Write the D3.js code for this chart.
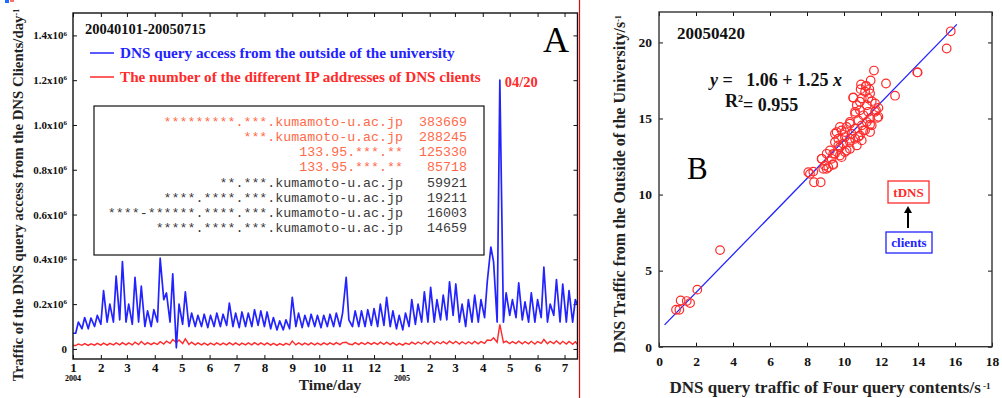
<!DOCTYPE html>
<html>
<head>
<meta charset="utf-8">
<script src="https://cdn.jsdelivr.net/npm/d3@7"></script>
<style>
    body { margin: 0; background: #fff; }
    svg { display: block; }
</style>
</head>
<body>
<svg id="chart" width="1002" height="398"></svg>
<script>
// ---- Panel A data: daily series read off the picture, sampled on Sundays (low) and Wednesdays (high), x1000
// first value = 2004-01-01, last value = 2005-07-15
const blueK = [
    70,
    70, 120, 90, 140, 90, 138, 100, 150,
    110, 260, 120, 200, 120, 325, 130, 390,
    120, 200, 110, 320, 120, 280, 100, 170, 100, 175,
    120, 405, 220, 250, 120, 335, 5, 200,
    110, 255, 100, 160, 100, 150, 100, 155, 95, 150,
    100, 160, 100, 155, 105, 205, 100, 160,
    95, 165, 100, 160, 100, 175, 105, 170,
    100, 165, 90, 140, 85, 125, 85, 130, 90, 230,
    100, 160, 95, 150, 100, 155, 100, 150,
    95, 150, 100, 155, 100, 160, 100, 160, 320, 130,
    100, 170, 100, 170, 100, 175, 105, 180,
    100, 200, 105, 230, 100, 170, 90, 150,
    85, 160, 100, 220, 110, 200, 120, 255, 120, 275,
    120, 220, 130, 240, 130, 300, 150, 290,
    120, 200, 100, 220, 120, 240, 120, 220,
    140, 300, 455, 390, 120, 1200, 120, 250,
    150, 220, 140, 295, 130, 210, 120, 250, 120, 220,
    140, 365, 120, 200, 150, 310, 120, 290,
    120, 260, 120, 220,
    200
];
const redK = [
    15,
    15, 22, 16, 24, 16, 23, 17, 25,
    17, 26, 17, 25, 18, 27, 18, 28,
    18, 27, 18, 30, 19, 33, 19, 28, 19, 27,
    20, 32, 22, 35, 25, 42, 28, 40,
    24, 45, 20, 30, 18, 27, 18, 26, 17, 26,
    18, 27, 18, 26, 18, 28, 18, 27,
    17, 26, 18, 27, 18, 28, 18, 27,
    18, 27, 17, 25, 16, 24, 17, 25, 18, 35,
    18, 27, 18, 26, 18, 27, 18, 26,
    18, 27, 19, 27, 19, 28, 19, 28, 30, 22,
    19, 28, 19, 28, 20, 29, 20, 28,
    20, 30, 20, 30, 19, 28, 17, 25,
    17, 26, 20, 30, 21, 31, 22, 33, 22, 34,
    22, 32, 23, 33, 23, 35, 24, 34,
    22, 32, 22, 32, 23, 34, 23, 33,
    25, 40, 38, 50, 30, 110, 28, 35,
    24, 33, 24, 35, 23, 33, 23, 34, 22, 33,
    25, 42, 23, 34, 24, 36, 22, 34,
    22, 33, 21, 32,
    22
];
const yTicksA = [0, 200000, 400000, 600000, 800000, 1000000, 1200000, 1400000];

const hostNames = [
    "*********.***.kumamoto-u.ac.jp",
    "***.kumamoto-u.ac.jp",
    "133.95.***.**",
    "133.95.***.**",
    "**.***.kumamoto-u.ac.jp",
    "****.****.***.kumamoto-u.ac.jp",
    "****-******.****.***.kumamoto-u.ac.jp",
    "*****.****.***.kumamoto-u.ac.jp",
];
const hostCounts = [383669, 288245, 125330, 85718, 59921, 19211, 16003, 14659];
const highlightedHosts = 4;

// ---- Panel B data: 2005-04-20 scatter
const scatterX = [
    3.3, 2.07, 1.17, 1.68, 0.92, 1.1, 1.5,
    15.77, 15.55, 13.96, 12.76, 12.27, 11.62, 11.44,
    13.98, 10.92, 11.19, 11.37, 10.9, 11.14, 10.5, 11.41, 10.96, 11.5, 11.68,
    10.69, 11.23, 11.86, 10.86, 11.31, 11.68, 10.6, 11.05, 11.8, 11.41, 10.77,
    11.23, 10.32, 10.96, 11.5, 10.6, 10.14, 11.14, 11.41, 9.87, 9.6, 10.41,
    10.86, 10.05, 9.69, 10.6, 10.96, 10.32, 9.51, 9.96, 10.69, 9.78, 10.32,
    9.24, 10.05, 9.51, 9.87, 9.06, 9.33, 8.79, 8.97, 9.42, 9.06, 8.34, 8.16,
    8.38, 8.74, 8.07, 9.41, 9.15, 8.88, 8.8,
    11.19, 10.5, 11.31, 10.86, 11.73, 10.6, 11.86, 10.32, 11.41, 9.78, 10.05,
    9.51, 11.05, 10.32, 10.77, 9.69, 10.14, 9.78, 9.42,
];
const scatterY = [
    6.35, 3.75, 3.04, 2.87, 2.43, 2.43, 3.0,
    20.73, 19.6, 18.03, 16.5, 17.3, 18.15, 17.5,
    18.03, 17.24, 17.15, 16.93, 16.93, 16.76, 16.36, 16.65, 16.32, 16.14, 15.99,
    15.87, 15.87, 15.7, 15.54, 15.44, 15.44, 15.32, 15.21, 15.04, 15.0, 14.88,
    14.77, 14.77, 14.55, 14.55, 14.33, 14.44, 14.22, 14.11, 14.22, 14.11, 14.0,
    13.89, 13.78, 13.67, 13.67, 13.56, 13.45, 13.45, 13.34, 13.23, 13.12, 13.0,
    12.9, 12.79, 12.68, 12.46, 12.68, 12.35, 12.35, 11.9, 11.95, 11.69, 11.51, 11.36,
    10.81, 10.81, 11.47, 12.0, 11.8, 11.69, 12.35,
    17.13, 16.38, 16.32, 16.1, 15.54, 15.44, 15.11, 14.66, 14.6, 14.44, 14.11,
    14.0, 14.22, 13.67, 13.78, 13.23, 12.9, 12.57, 12.68,
];
const fitIntercept = 1.06;
const fitSlope = 1.25;
const fitRange = [0.3, 16.1];
const xTicksB = [0, 2, 4, 6, 8, 10, 12, 14, 16, 18];
const yTicksB = [0, 5, 10, 15, 20];

// ---- Style
const SERIF = "'Liberation Serif', 'Times New Roman', Times, serif";
const MONO = "'Liberation Mono', 'Courier New', monospace";
const colors = {
    blue: "#2323ff",
    red: "#ff2a2a",
    host: "#ff6a4a",
    hostDim: "#3a3a3a",
    frame: "#111",
};

const svg = d3.select("#chart");
svg.append("rect").attr("width", 1002).attr("height", 398).attr("fill", "#fff");

// little marks in the top-left corner of the figure
svg.append("rect").attr("x", 5).attr("y", 0).attr("width", 4).attr("height", 3).attr("fill", "#1e6cff");
svg.append("rect").attr("x", 10).attr("y", 0).attr("width", 4).attr("height", 2).attr("fill", "#ff6a6a");

function styleAxis(g, size) {
    g.select(".domain").remove();
    g.selectAll(".tick line").attr("stroke", colors.frame).attr("stroke-width", 1);
    g.selectAll(".tick text")
        .attr("font-family", SERIF)
        .attr("font-weight", "bold")
        .attr("font-size", size)
        .attr("fill", "#111");
}

/* ============ Panel A ============ */
const A = { left: 73, right: 577.5, top: 13, bottom: 359 };
const xA = d3.scaleTime()
    .domain([new Date(2004, 0, 1), new Date(2005, 6, 15, 10)])
    .range([A.left, A.right]);
const yA = d3.scaleLinear().domain([-45000, 1500000]).range([A.bottom, A.top]);

const sampleDates = d3.timeDay
    .range(new Date(2004, 0, 1), new Date(2005, 6, 16))
    .filter((d, i, all) => i === 0 || i === all.length - 1 || d.getDay() === 0 || d.getDay() === 3);

const gA = svg.append("g");

gA.append("g")
    .attr("transform", `translate(0,${A.bottom})`)
    .call(d3.axisBottom(xA).ticks(d3.timeMonth.every(1)).tickSize(-4).tickPadding(4)
        .tickFormat((d) => d.getMonth() + 1))
    .call((g) => styleAxis(g, 13));
gA.append("g")
    .attr("transform", `translate(0,${A.top})`)
    .call(d3.axisTop(xA).ticks(d3.timeMonth.every(1)).tickSize(-4).tickFormat(() => ""))
    .call((g) => styleAxis(g, 12));

const leftA = gA.append("g")
    .attr("transform", `translate(${A.left},0)`)
    .call(d3.axisLeft(yA).tickValues(yTicksA).tickSize(-4).tickPadding(6).tickFormat(() => ""))
    .call((g) => styleAxis(g, 11));
leftA.selectAll(".tick text").each(function (d) {
    const t = d3.select(this);
    if (d === 0) {
        t.text("0");
        return;
    }
    t.append("tspan").text((d / 1e6).toFixed(1) + "x10");
    t.append("tspan").attr("dy", "-0.55em").attr("font-size", 7).text("6");
});
gA.append("g")
    .attr("transform", `translate(${A.right},0)`)
    .call(d3.axisRight(yA).tickValues(yTicksA).tickSize(-4).tickFormat(() => ""))
    .call((g) => styleAxis(g, 11));

// year labels under January ticks
[new Date(2004, 0, 1), new Date(2005, 0, 1)].forEach((d) => {
    gA.append("text")
        .attr("x", xA(d))
        .attr("y", 381)
        .attr("text-anchor", "middle")
        .attr("font-family", SERIF)
        .attr("font-weight", "bold")
        .attr("font-size", 8)
        .text(d.getFullYear());
});

// series
const lineA = (vals) =>
    d3.line().x((d, i) => xA(sampleDates[i])).y((d) => yA(d * 1000))(vals);

gA.append("path")
    .attr("d", lineA(redK))
    .attr("fill", "none")
    .attr("stroke", colors.red)
    .attr("stroke-width", 1.4);
gA.append("path")
    .attr("d", lineA(blueK))
    .attr("fill", "none")
    .attr("stroke", colors.blue)
    .attr("stroke-width", 1.7)
    .attr("stroke-linejoin", "round");

// frame
gA.append("rect")
    .attr("x", A.left).attr("y", A.top)
    .attr("width", A.right - A.left).attr("height", A.bottom - A.top)
    .attr("fill", "none").attr("stroke", colors.frame).attr("stroke-width", 1.4);
svg.append("line")
    .attr("x1", 579.5).attr("x2", 579.5).attr("y1", 0).attr("y2", 398)
    .attr("stroke", "#d01010").attr("stroke-width", 1.2);

// titles
gA.append("text")
    .attr("transform", "translate(23,195) rotate(-90)")
    .attr("text-anchor", "middle")
    .attr("font-family", SERIF)
    .attr("font-weight", "bold")
    .attr("font-size", 14.8)
    .attr("fill", "#222")
    .text("Traffic of the DNS query access from the DNS Clients/day")
    .append("tspan").attr("dy", "-0.5em").attr("font-size", 8).text("-1");

gA.append("text")
    .attr("x", 330).attr("y", 390)
    .attr("text-anchor", "middle")
    .attr("font-family", SERIF).attr("font-weight", "bold").attr("font-size", 15.5)
    .attr("fill", "#222")
    .text("Time/day");

gA.append("text")
    .attr("x", 85).attr("y", 34)
    .attr("font-family", SERIF).attr("font-weight", "bold").attr("font-size", 14.5)
    .attr("fill", "#111")
    .text("20040101-20050715");

gA.append("text")
    .attr("x", 543).attr("y", 52)
    .attr("font-family", SERIF).attr("font-size", 36)
    .text("A");

// legend
const legendA = [
    { label: "DNS query access from the outside of the university", color: colors.blue },
    { label: "The number of the different IP addresses of DNS clients", color: colors.red },
];
legendA.forEach((item, i) => {
    const y = 53 + i * 24;
    gA.append("line")
        .attr("x1", 90).attr("x2", 114).attr("y1", y).attr("y2", y)
        .attr("stroke", item.color).attr("stroke-width", 1.5);
    gA.append("text")
        .attr("x", 120).attr("y", y + 5)
        .attr("font-family", SERIF).attr("font-weight", "bold").attr("font-size", 15.2)
        .attr("fill", item.color)
        .text(item.label);
});

gA.append("text")
    .attr("x", xA(sampleDates[blueK.indexOf(d3.max(blueK))]) + 5)
    .attr("y", 87)
    .attr("font-family", SERIF).attr("font-weight", "bold").attr("font-size", 14.5)
    .attr("fill", colors.red)
    .text("04/20");

// host table
const tableA = gA.append("g");
tableA.append("rect")
    .attr("x", 94).attr("y", 106).attr("width", 390).attr("height", 149)
    .attr("fill", "#fff").attr("stroke", colors.frame).attr("stroke-width", 1.2);
hostNames.forEach((name, i) => {
    const y = 126 + i * 15.15;
    const fill = i < highlightedHosts ? colors.host : colors.hostDim;
    tableA.append("text")
        .attr("x", 403).attr("y", y).attr("text-anchor", "end")
        .attr("font-family", MONO).attr("font-size", 13.3).attr("fill", fill)
        .text(name);
    tableA.append("text")
        .attr("x", 467).attr("y", y).attr("text-anchor", "end")
        .attr("font-family", MONO).attr("font-size", 13.3).attr("fill", fill)
        .text(hostCounts[i]);
});

/* ============ Panel B ============ */
const B = { left: 659, right: 992, top: 12, bottom: 346.7 };
const xB = d3.scaleLinear().domain([0, 18]).range([B.left, B.right]);
const yB = d3.scaleLinear().domain([0, 22]).range([B.bottom, B.top]);
const gB = svg.append("g");

gB.append("g")
    .attr("transform", `translate(0,${B.bottom})`)
    .call(d3.axisBottom(xB).tickValues(xTicksB).tickSize(-4).tickPadding(10))
    .call((g) => styleAxis(g, 13.5));
gB.append("g")
    .attr("transform", `translate(0,${B.top})`)
    .call(d3.axisTop(xB).tickValues(xTicksB).tickSize(-4).tickFormat(() => ""))
    .call((g) => styleAxis(g, 13));
gB.append("g")
    .attr("transform", `translate(${B.left},0)`)
    .call(d3.axisLeft(yB).tickValues(yTicksB).tickSize(-4).tickPadding(7))
    .call((g) => styleAxis(g, 13.5));
gB.append("g")
    .attr("transform", `translate(${B.right},0)`)
    .call(d3.axisRight(yB).tickValues(yTicksB).tickSize(-4).tickFormat(() => ""))
    .call((g) => styleAxis(g, 13));

// fit line
gB.append("line")
    .attr("x1", xB(fitRange[0])).attr("y1", yB(fitIntercept + fitSlope * fitRange[0]))
    .attr("x2", xB(fitRange[1])).attr("y2", yB(fitIntercept + fitSlope * fitRange[1]))
    .attr("stroke", colors.blue).attr("stroke-width", 1.3);

// points
gB.append("g")
    .selectAll("circle")
    .data(scatterX)
    .enter()
    .append("circle")
    .attr("cx", (d) => xB(d))
    .attr("cy", (d, i) => yB(scatterY[i]))
    .attr("r", 4.3)
    .attr("fill", "none")
    .attr("stroke", colors.red)
    .attr("stroke-width", 1.2);

gB.append("rect")
    .attr("x", B.left).attr("y", B.top)
    .attr("width", B.right - B.left).attr("height", B.bottom - B.top)
    .attr("fill", "none").attr("stroke", "#333").attr("stroke-width", 1.4);

gB.append("text")
    .attr("x", 677).attr("y", 39)
    .attr("font-family", SERIF).attr("font-weight", "bold").attr("font-size", 17)
    .attr("fill", "#111")
    .text("20050420");

const eq = gB.append("text")
    .attr("x", 710).attr("y", 86)
    .attr("font-family", SERIF).attr("font-weight", "bold").attr("font-size", 18)
    .attr("fill", "#111")
    .style("white-space", "pre");
eq.append("tspan").attr("font-style", "italic").text("y");
eq.append("tspan").text(` =   ${fitIntercept.toFixed(2)} + ${fitSlope.toFixed(2)} `);
eq.append("tspan").attr("font-style", "italic").text("x");

const r2 = gB.append("text")
    .attr("x", 725).attr("y", 107)
    .attr("font-family", SERIF).attr("font-weight", "bold").attr("font-size", 18)
    .attr("fill", "#111");
r2.append("tspan").text("R");
r2.append("tspan").attr("dy", "-0.5em").attr("font-size", 10).text("2");
r2.append("tspan").attr("dy", "0.5em").text("= 0.955");

gB.append("text")
    .attr("x", 687).attr("y", 179)
    .attr("font-family", SERIF).attr("font-size", 31)
    .text("B");

// tDNS <- clients annotation
gB.append("rect")
    .attr("x", 888).attr("y", 181).attr("width", 41).attr("height", 22)
    .attr("fill", "#fff").attr("stroke", colors.red).attr("stroke-width", 1.3);
gB.append("text")
    .attr("x", 908.5).attr("y", 197).attr("text-anchor", "middle")
    .attr("font-family", SERIF).attr("font-weight", "bold").attr("font-size", 13)
    .attr("fill", colors.red).text("tDNS");
gB.append("rect")
    .attr("x", 886).attr("y", 232).attr("width", 46).attr("height", 21)
    .attr("fill", "#fff").attr("stroke", colors.blue).attr("stroke-width", 1.3);
gB.append("text")
    .attr("x", 909).attr("y", 247).attr("text-anchor", "middle")
    .attr("font-family", SERIF).attr("font-weight", "bold").attr("font-size", 13)
    .attr("fill", colors.blue).text("clients");
gB.append("line")
    .attr("x1", 908).attr("x2", 908).attr("y1", 228).attr("y2", 212)
    .attr("stroke", "#000").attr("stroke-width", 2);
gB.append("path")
    .attr("d", "M904,213 L908,206 L912,213 Z")
    .attr("fill", "#000");

// axis titles
gB.append("text")
    .attr("x", 830).attr("y", 393).attr("text-anchor", "middle")
    .attr("font-family", SERIF).attr("font-weight", "bold").attr("font-size", 17)
    .attr("fill", "#222")
    .text("DNS query traffic of Four query contents/s")
    .append("tspan").attr("dy", "-0.5em").attr("font-size", 9).text(" -1");

gB.append("text")
    .attr("transform", "translate(625,184) rotate(-90)")
    .attr("text-anchor", "middle")
    .attr("font-family", SERIF).attr("font-weight", "bold").attr("font-size", 16)
    .attr("fill", "#222")
    .text("DNS Traffic from the Outside of the University/s")
    .append("tspan").attr("dy", "-0.5em").attr("font-size", 8).text("-1");
</script>
</body>
</html>
